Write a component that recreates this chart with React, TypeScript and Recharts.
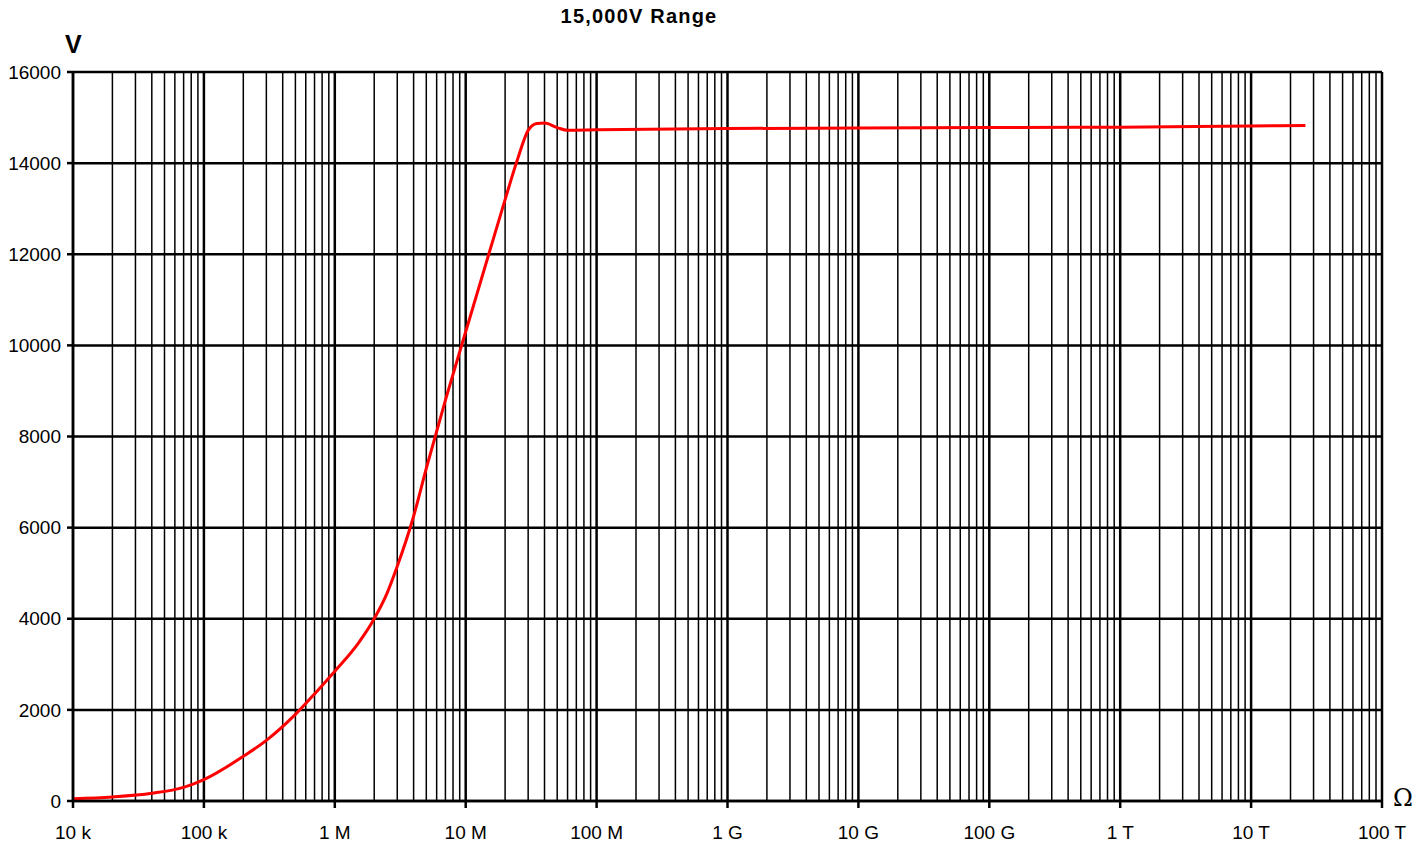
import { CartesianGrid, Line, LineChart, ReferenceLine, XAxis, YAxis } from "recharts";

const resistance = [
  1e4, 2e4, 4e4, 7e4, 1e5, 2e5, 3e5, 5e5, 7e5, 1e6, 1.5e6, 2e6, 2.5e6, 3e6, 4e6, 5e6, 7e6, 1e7, 1.5e7, 2e7, 2.5e7,
  3e7, 3.5e7, 4e7, 5e7, 6e7, 1e8, 1e9, 1e10, 1e11, 1e12, 1e13, 2.6e13,
];
const voltage = [
  50, 90, 170, 300, 470, 980, 1330, 1900, 2350, 2850, 3450, 4000, 4550, 5150, 6250, 7300, 8800, 10300, 12000, 13200,
  14100, 14720, 14870, 14880, 14780, 14720, 14730, 14760, 14770, 14780, 14790, 14815, 14825,
];

const decades = [1e4, 1e5, 1e6, 1e7, 1e8, 1e9, 1e10, 1e11, 1e12, 1e13, 1e14];
const decadeLabels = ["10 k", "100 k", "1 M", "10 M", "100 M", "1 G", "10 G", "100 G", "1 T", "10 T", "100 T"];
const yTicks = [0, 2000, 4000, 6000, 8000, 10000, 12000, 14000, 16000];

const data = resistance.map((r, i) => ({ r, v: voltage[i] }));
const minorLines = decades.slice(0, -1).flatMap((d) => [2, 3, 4, 5, 6, 7, 8, 9].map((k) => d * k));

const font = "'Liberation Sans', Arial, sans-serif";

export default function App() {
  return (
    <div style={{ position: "absolute", left: 0, top: 0, width: 1428, height: 846, fontFamily: font, background: "#fff" }}>
      <div
        style={{
          position: "absolute",
          left: 0,
          width: 1278,
          top: 5,
          textAlign: "center",
          fontWeight: "bold",
          fontSize: 20,
          letterSpacing: 1.2,
        }}
      >
        15,000V Range
      </div>
      <div style={{ position: "absolute", left: 65, top: 30, fontWeight: "bold", fontSize: 25 }}>V</div>
      <div style={{ position: "absolute", left: 1393, top: 784, fontSize: 24, fontFamily: "'DejaVu Serif', serif" }}>Ω</div>
      <LineChart width={1428} height={846} data={data} margin={{ top: 72, right: 46, left: 13, bottom: 5 }}>
        <CartesianGrid vertical={false} stroke="#000" strokeWidth={2.5} />
        {minorLines.map((x) => (
          <ReferenceLine key={x} x={x} stroke="#000" strokeWidth={1.5} ifOverflow="hidden" />
        ))}
        {decades.map((x) => (
          <ReferenceLine key={"d" + x} x={x} stroke="#000" strokeWidth={2.5} />
        ))}
        <XAxis
          dataKey="r"
          type="number"
          scale="log"
          domain={[1e4, 1e14]}
          ticks={decades}
          tickFormatter={(v: number) => decadeLabels[decades.findIndex((d) => Math.abs(d - v) / d < 1e-6)] ?? ""}
          allowDataOverflow
          height={40}
          stroke="#000"
          strokeWidth={2.5}
          tickSize={7}
          tick={{ fill: "#000", fontSize: 19, fontFamily: font, dy: 16 }}
        />
        <YAxis
          type="number"
          domain={[0, 16000]}
          ticks={yTicks}
          width={60}
          stroke="#000"
          strokeWidth={2.5}
          tickSize={6}
          tick={{ fill: "#000", fontSize: 19, fontFamily: font, dx: -4 }}
        />
        <Line dataKey="v" type="monotone" stroke="#ff0000" strokeWidth={3} dot={false} isAnimationActive={false} />
      </LineChart>
    </div>
  );
}
